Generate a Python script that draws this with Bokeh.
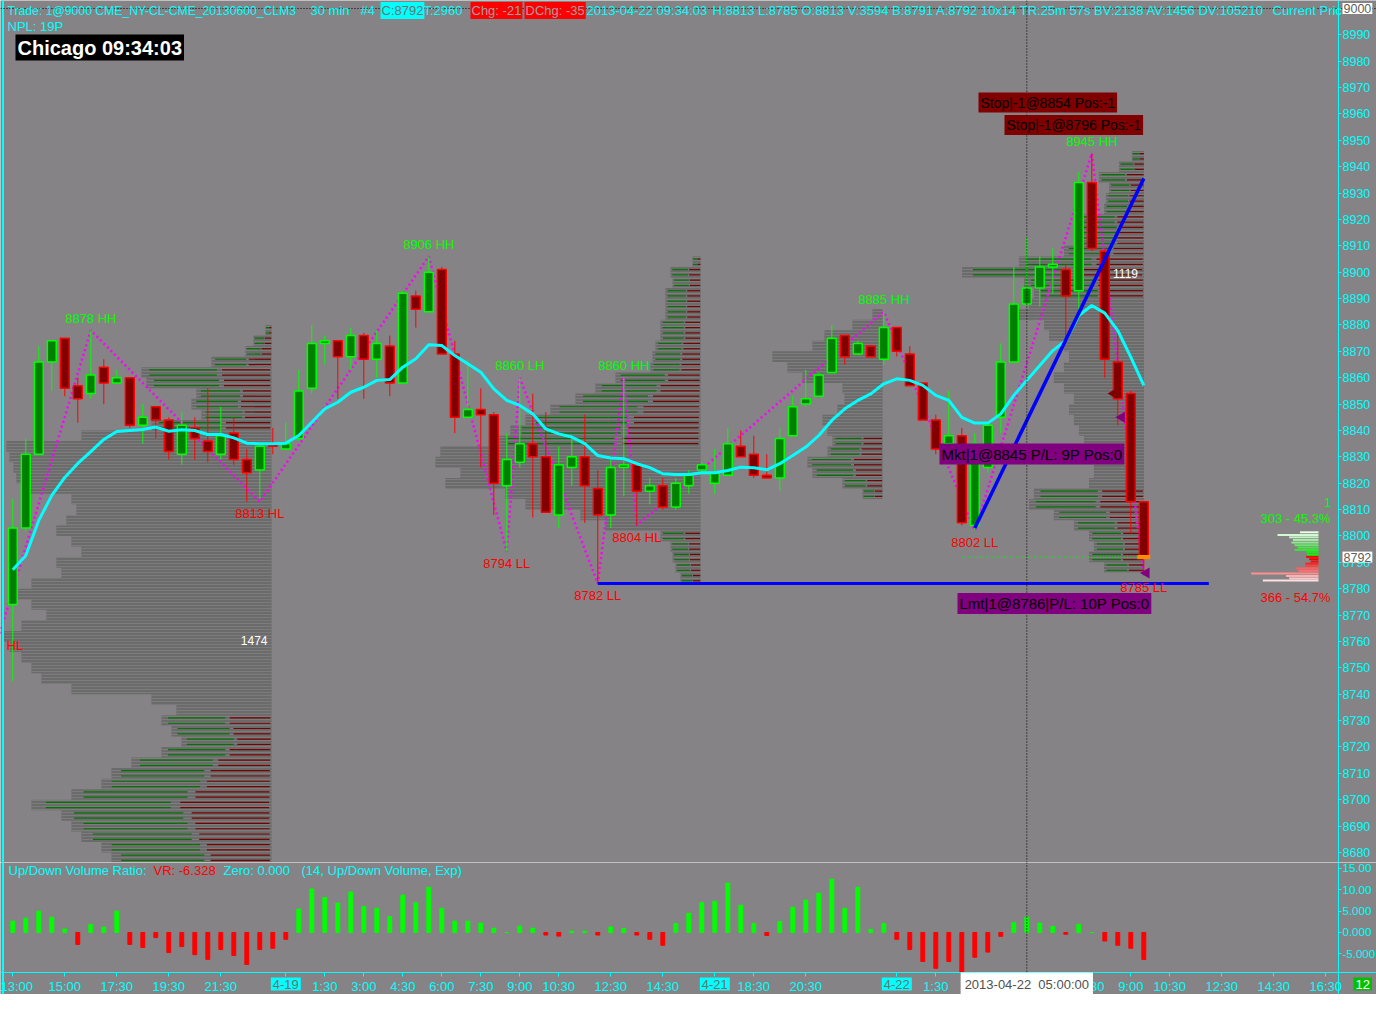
from bokeh.plotting import figure
from bokeh.models import Range1d, FixedTicker, Label, ColumnDataSource, Span
from bokeh.layouts import column
from bokeh.embed import file_html
from bokeh.resources import INLINE
from bokeh.core.properties import value

# ---------------- data ----------------
opens = [8774, 8803, 8831, 8866, 8875, 8857, 8854, 8864, 8858, 8860,
         8842, 8849, 8844, 8831, 8841, 8836, 8831, 8839, 8829, 8825,
         8835, 8833, 8837, 8856, 8873, 8874, 8868, 8876, 8867, 8872,
         8858, 8891, 8885, 8901, 8869, 8845, 8848, 8846, 8819, 8828,
         8835, 8830, 8808, 8826, 8830, 8818, 8808, 8826, 8827, 8817,
         8819, 8811, 8819, 8825, 8820, 8823, 8834, 8831, 8823, 8822,
         8838, 8850, 8853, 8862, 8876, 8869, 8872, 8867, 8879, 8869,
         8858, 8844, 8835, 8838, 8804, 8826, 8845, 8866, 8888, 8894,
         8902, 8901, 8893, 8934, 8908, 8866, 8854, 8813]
highs = [8814, 8837, 8872, 8874, 8875, 8860, 8878, 8867, 8863, 8860,
         8850, 8849, 8845, 8847, 8845, 8856, 8849, 8845, 8833, 8834,
         8841, 8843, 8863, 8880, 8876, 8874, 8879, 8877, 8878, 8876,
         8893, 8893, 8906, 8902, 8874, 8867, 8856, 8847, 8839, 8860,
         8854, 8847, 8834, 8837, 8846, 8825, 8829, 8860, 8827, 8822,
         8822, 8822, 8825, 8828, 8833, 8841, 8840, 8838, 8831, 8841,
         8853, 8863, 8862, 8880, 8876, 8874, 8872, 8885, 8879, 8872,
         8858, 8846, 8855, 8841, 8839, 8843, 8873, 8902, 8913, 8906,
         8909, 8903, 8938, 8945, 8909, 8877, 8855, 8813]
lows = [8745, 8802, 8831, 8855, 8853, 8843, 8852, 8850, 8858, 8841,
        8835, 8837, 8829, 8827, 8829, 8828, 8829, 8827, 8813, 8814,
        8831, 8833, 8836, 8854, 8865, 8852, 8863, 8852, 8860, 8853,
        8858, 8879, 8885, 8869, 8839, 8845, 8826, 8808, 8794, 8826,
        8807, 8809, 8803, 8819, 8805, 8782, 8803, 8815, 8804, 8812,
        8810, 8810, 8816, 8824, 8816, 8823, 8830, 8822, 8822, 8817,
        8838, 8849, 8853, 8862, 8865, 8869, 8868, 8865, 8868, 8857,
        8844, 8831, 8835, 8804, 8802, 8824, 8839, 8866, 8888, 8887,
        8892, 8875, 8886, 8908, 8860, 8842, 8801, 8785]
closes = [8803, 8831, 8866, 8874, 8856, 8852, 8861, 8858, 8860, 8842,
          8845, 8844, 8832, 8842, 8837, 8832, 8838, 8829, 8824, 8834,
          8834, 8835, 8855, 8873, 8874, 8868, 8876, 8867, 8873, 8858,
          8892, 8886, 8900, 8869, 8845, 8848, 8846, 8820, 8829, 8835,
          8830, 8809, 8827, 8830, 8819, 8808, 8826, 8827, 8817, 8819,
          8811, 8820, 8823, 8827, 8824, 8835, 8830, 8823, 8822, 8837,
          8849, 8852, 8861, 8875, 8868, 8873, 8868, 8879, 8870, 8857,
          8844, 8833, 8838, 8805, 8835, 8842, 8866, 8888, 8894, 8902,
          8903, 8891, 8934, 8909, 8867, 8852, 8813, 8792]
ema14 = [8787.2, 8792.6, 8805.9, 8815.4, 8822.2, 8827.5, 8832.0, 8836.6, 8839.6, 8840.0,
         8840.4, 8841.3, 8839.7, 8840.3, 8840.0, 8838.5, 8838.5, 8837.2, 8835.2, 8835.0,
         8835.0, 8835.2, 8838.1, 8843.1, 8848.2, 8850.7, 8854.5, 8856.4, 8859.0, 8859.3,
         8864.0, 8867.2, 8872.5, 8872.2, 8868.4, 8865.3, 8862.1, 8855.8, 8851.4, 8849.5,
         8846.3, 8840.6, 8838.7, 8837.5, 8835.0, 8830.5, 8829.6, 8829.3, 8827.4, 8825.9,
         8823.6, 8823.3, 8823.3, 8824.0, 8824.0, 8824.8, 8826.1, 8825.9, 8825.1, 8827.4,
         8830.5, 8833.7, 8838.1, 8843.8, 8848.2, 8851.4, 8853.9, 8857.7, 8859.6, 8859.0,
         8857.1, 8853.3, 8851.4, 8845.0, 8842.8, 8842.8, 8846.3, 8853.3, 8859.0, 8864.6,
         8870.3, 8874.1, 8883.6, 8887.4, 8884.5, 8877.9, 8867.8, 8857.1]
vol_ratio = [2.66, 3.36, 5.0, 3.6, 0.8, -2.8, 1.9, 1.25, 5.0, -2.8,
             -3.5, -1.2, -4.7, -3.3, -5.2, -6.3, -4.0, -5.4, -7.5, -4.0,
             -3.7, -1.6, 5.5, 10.2, 8.2, 6.9, 9.5, 6.1, 5.7, 3.75,
             8.75, 7.0, 10.6, 5.7, 2.66, 2.66, 2.2, 1.0, 0.0, 1.5,
             1.0, -0.6, -0.85, 0.3, 0.3, -0.6, 1.3, 0.9, -0.6, -1.6,
             -3.0, 2.1, 4.5, 7.0, 7.3, 11.6, 6.4, 2.1, -0.7, 2.6,
             5.9, 7.6, 9.2, 12.5, 5.7, 10.6, 0.7, 2.1, -1.6, -4.0,
             -6.8, -8.4, -6.8, -9.3, -5.8, -4.6, -0.9, 2.3, 3.6, 2.2,
             1.4, -0.4, 1.9, 0.0, -2.0, -3.0, -3.7, -6.328]

# swing pivots (zig-zag)
zig_bars = [0, 7, 20, 33, 39, 40, 46, 48, 49, 68, 75, 84, 88]
zig_prices = [8763, 8878, 8813, 8906, 8794, 8860, 8782, 8860, 8804, 8885, 8802, 8945, 8785]
swing_bars = [7, 20, 33, 39, 40, 46, 48, 49, 68, 75, 84, 88]
swing_prices = [8878, 8813, 8906, 8794, 8860, 8782, 8860, 8804, 8885, 8802, 8945, 8785]
swing_kinds = ["HH", "HL", "HH", "LL", "LH", "LL", "HH", "HL", "HH", "LL", "HH", "LL"]

# session volume profiles (price bins of 4 ticks, top to bottom)
s1_levels = [8878, 8874, 8870, 8866, 8862, 8858, 8854, 8850, 8846, 8842,
             8838, 8834, 8830, 8826, 8822, 8818, 8814, 8810, 8806, 8802,
             8798, 8794, 8790, 8786, 8782, 8778, 8774, 8770, 8766, 8762,
             8758, 8754, 8750, 8746, 8742, 8738, 8734, 8730, 8726, 8722,
             8718, 8714, 8710, 8706, 8702, 8698, 8694, 8690, 8686, 8682, 8678]
s1_vol = [33, 99, 143, 330, 715, 688, 413, 440, 385, 660,
          1045, 1458, 1441, 1419, 1403, 1375, 1100, 1073, 1128, 1183,
          1100, 1045, 1183, 1155, 1320, 1403, 1320, 1238, 1375, 1474,
          1441, 1375, 1320, 1265, 1100, 660, 523, 605, 550, 495,
          605, 770, 880, 935, 1100, 1320, 1155, 1100, 1045, 935, 880]
s2_levels = [8904, 8900, 8896, 8892, 8888, 8884, 8880, 8876, 8872, 8868,
             8864, 8860, 8856, 8852, 8848, 8844, 8840, 8836, 8832, 8828,
             8824, 8820, 8816, 8812, 8808, 8804, 8800, 8796, 8792, 8788, 8784]
s2_vol = [48, 180, 168, 210, 210, 210, 240, 240, 270, 288,
          300, 510, 630, 750, 900, 1050, 1140, 1230, 1560, 1590,
          1440, 1530, 1170, 1050, 720, 570, 240, 180, 168, 150, 120]
s3_levels = [8884, 8880, 8876, 8872, 8868, 8864, 8860, 8856, 8852, 8848,
             8844, 8840, 8836, 8832, 8828, 8824, 8820, 8816]
s3_vol = [60, 180, 348, 420, 660, 570, 480, 240, 228, 270,
          360, 330, 300, 330, 450, 420, 240, 120]
s4_levels = [8944, 8940, 8936, 8932, 8928, 8924, 8920, 8916, 8912, 8908,
             8904, 8900, 8896, 8892, 8888, 8884, 8880, 8876, 8872, 8868,
             8864, 8860, 8856, 8852, 8848, 8844, 8840, 8836, 8832, 8828,
             8824, 8820, 8816, 8812, 8808, 8804, 8800, 8796, 8792, 8788]
s4_vol = [74, 154, 277, 215, 234, 246, 431, 400, 431, 492,
          769, 1119, 738, 677, 707, 800, 615, 584, 492, 461,
          492, 554, 492, 431, 461, 431, 400, 369, 369, 308,
          308, 338, 677, 707, 554, 431, 338, 308, 338, 246]

# current bar bid/ask histogram
cur_levels = [8801.4, 8800.4, 8799.5, 8798.5, 8797.5, 8796.5, 8795.6, 8794.7, 8793.9, 8792.9,
              8792.1, 8791.2, 8790.3, 8789.5, 8788.6, 8787.7, 8786.8, 8785.8, 8784.8, 8783.9, 8783.1]
cur_ask_vol = [24, 53, 38, 33, 35, 31, 27, 31, 16, 15]
cur_bid_vol = [16, 12, 10, 17, 17, 29, 26, 87, 42, 38, 72]

# drawn objects
trend_bars = [75, 88]
trend_prices = [8803, 8935.5]
level_bars = [46, 93]
level_price = 8782
order_bars = [85.7, 86.3, 88.2]
order_prices = [8854, 8845, 8786]
cur_line_start = 74
crosshair_bar = 79
crosshair_price = 9000

price_ticks = [8680, 8690, 8700, 8710, 8720, 8730, 8740, 8750, 8760, 8770, 8780, 8790,
               8800, 8810, 8820, 8830, 8840, 8850, 8860, 8870, 8880, 8890, 8900, 8910,
               8920, 8930, 8940, 8950, 8960, 8970, 8980, 8990]
vr_ticks = [15, 10, 5, 0, -5]
vr_tick_labels = ["15.00", "10.00", "5.000", "0.000", "-5.000"]
time_ticks = [1, 5, 9, 13, 17, 22, 25, 28, 31, 34, 37, 40, 43, 47, 51, 55, 58, 62,
              69, 72, 75, 78, 81, 84, 87, 90, 94, 98, 102]
time_labels = ["13:00", "15:00", "17:30", "19:30", "21:30", "4-19", "1:30", "3:00", "4:30",
               "6:00", "7:30", "9:00", "10:30", "12:30", "14:30", "4-21", "18:30", "20:30",
               "4-22", "1:30", "3:00", "4:30", "6:00", "7:30", "9:00", "10:30", "12:30",
               "14:30", "16:30"]
day_marks = ["4-19", "4-21", "4-22"]

# ---------------- styles / geometry ----------------
BG = "#858385"
CYAN = "#00ffff"
GREEN = "#00ff00"
RED = "#ff0000"
FONT = "Liberation Sans"
BAR_PX = 13.0
PROF = "#6b6b6b"
PROF_LINE = "#7d7c7d"
W = 1376
H_MAIN = 862
H_LOW = 132


def bx(px):
    """screen x (px) -> bar coordinate"""
    return 1 + (px - 12.3) / BAR_PX


AXIS_X = bx(1338)
bars = list(range(1, len(opens) + 1))

p = figure(width=W, height=H_MAIN, x_range=Range1d(bx(0), bx(W)),
           y_range=Range1d(8676.2, 9003.03), y_axis_location="right", x_axis_location=None,
           output_backend="svg", toolbar_location=None, title=None,
           background_fill_color=BG, border_fill_color=BG, min_border=0,
           outline_line_color=None)
p.grid.visible = False


def style_axis(ax, size="12px"):
    ax.axis_line_color = CYAN
    ax.major_tick_line_color = CYAN
    ax.minor_tick_line_color = None
    ax.major_tick_out = 3
    ax.major_tick_in = 0
    ax.major_label_text_color = CYAN
    ax.major_label_text_font = FONT
    ax.major_label_text_font_size = size
    ax.major_label_standoff = 1


yax = p.yaxis[0]
yax.ticker = FixedTicker(ticks=price_ticks)
yax.fixed_location = AXIS_X
style_axis(yax, "12.5px")


def ms(rx, ry):
    return rx, H_MAIN - ry


def ls(rx, ry):
    return rx, H_LOW - (ry - H_MAIN)


def lab(fig, x, y, text, color, size="13px", bg=None, align="left", baseline="middle",
        bold=False, pad=0, xu="screen", yu="screen"):
    l = Label(x=x, y=y, x_units=xu, y_units=yu, text=text, text_color=color,
              text_font=FONT, text_font_size=size, text_align=align,
              text_baseline=baseline, text_font_style="bold" if bold else "normal")
    if bg is not None:
        l.background_fill_color = bg
        l.padding = pad
    fig.add_layout(l)
    return l


# ---- volume profiles ----
def draw_profile(levels, vols, right, px_per_vol, zone):
    lens = [v * px_per_vol / BAR_PX for v in vols]
    left = [right - L for L in lens]
    src = ColumnDataSource(dict(y=levels, left=left, right=[right] * len(levels)))
    p.hbar(y="y", left="left", right="right", height=4, source=src,
           fill_color=PROF, line_color=None, hatch_pattern="horizontal_line",
           hatch_color=PROF_LINE, hatch_scale=3, hatch_weight=1)
    gx0, gx1, rx0, rx1, yy = [], [], [], [], []
    for lv, L in zip(levels, lens):
        if zone(lv):
            for d in (-1.0, 1.0):
                yy.append(lv + d)
                gx0.append(right - 0.94 * L)
                gx1.append(right - 0.42 * L)
                rx0.append(right - 0.38 * L)
                rx1.append(right - 0.01 * L)
    p.segment(x0=gx0, y0=yy, x1=gx1, y1=yy, line_color="#007400", line_width=1.2)
    p.segment(x0=rx0, y0=yy, x1=rx1, y1=yy, line_color="#760000", line_width=1.2)


s1_right = bx(271)
s2_right = bx(700)
s3_right = bx(882)
s4_right = bx(1143.5)
draw_profile(s1_levels, s1_vol, s1_right, 268 / 1474, lambda v: v >= 8840 or v <= 8730)
draw_profile(s2_levels, s2_vol, s2_right, 1 / 6, lambda v: v >= 8836 or v <= 8800)
draw_profile(s3_levels, s3_vol, s3_right, 1 / 6, lambda v: v <= 8836)
draw_profile(s4_levels, s4_vol, s4_right, 182 / 1119, lambda v: v >= 8890 or v <= 8818)

p.text(x=[s1_right], y=[s1_levels[s1_vol.index(max(s1_vol))]], text=[str(max(s1_vol))],
       text_color="white", text_font=value(FONT), text_font_size="12px",
       text_align="right", text_baseline="middle", x_offset=-4, y_offset=4)
p.text(x=[s4_right], y=[s4_levels[s4_vol.index(max(s4_vol))]], text=[str(max(s4_vol))],
       text_color="white", text_font=value(FONT), text_font_size="12px",
       text_align="right", text_baseline="middle", x_offset=-6, y_offset=1)

# ---- current bar histogram ----
cur_right = bx(1318)
cur_vol = cur_ask_vol + cur_bid_vol
na, nb = len(cur_ask_vol), len(cur_bid_vol)
ask_cols = ["#e8ffe8", "#d4f7d4", "#c0f2c0", "#a8eca8", "#90e890", "#70e070",
            "#50e050", "#30e830", "#10f010", "#00ff00"]
bid_cols = ["#ff0000", "#f00000", "#e81010", "#ff2020", "#ff4040", "#ff6060",
            "#ff7070", "#ff9090", "#ffb0b0", "#ffc8c8", "#ffe0e0"]
p.hbar(y=cur_levels, left=[cur_right - v * 0.773 / BAR_PX for v in cur_vol],
       right=[cur_right] * len(cur_vol), height=0.75,
       fill_color=ask_cols[:na] + bid_cols[:nb], line_color=None)
ask_sum, bid_sum = sum(cur_ask_vol), sum(cur_bid_vol)
tot = ask_sum + bid_sum
lab(p, *ms(1295, 518), f"{ask_sum} - {100 * ask_sum / tot:.1f}%", GREEN, "13px", align="center")
lab(p, *ms(1295, 597), f"{bid_sum} - {100 * bid_sum / tot:.1f}%", RED, "13px", align="center")
lab(p, *ms(1327, 502), "1", GREEN, "12px", align="center")

# ---- zigzag ----
p.line(zig_bars, zig_prices, line_color="#ff00ff", line_width=2.6, line_dash="2 3")

# ---- candles ----
up = [c >= o for o, c in zip(opens, closes)]
cs = ColumnDataSource(dict(
    x=bars, high=highs, low=lows,
    top=[max(o, c) for o, c in zip(opens, closes)],
    bot=[min(o, c) for o, c in zip(opens, closes)],
    fill=["#008000" if u else "#800000" for u in up],
    edge=[GREEN if u else RED for u in up]))
p.segment(x0="x", y0="low", x1="x", y1="high", line_color="edge", line_width=1, source=cs)
p.vbar(x="x", top="top", bottom="bot", width=0.68, fill_color="fill",
       line_color="edge", line_width=1.5, source=cs)

# ---- EMA ----
p.line(bars, ema14, line_color=CYAN, line_width=3)

# ---- drawn lines ----
p.line(level_bars, [level_price, level_price], line_color="#0000ff", line_width=3)
p.line(trend_bars, trend_prices, line_color="#0000ff", line_width=3.5)
p.line([cur_line_start, bars[-1]], [closes[-1], closes[-1]], line_color=GREEN,
       line_width=1, line_dash="1 2")
p.rect(x=[bars[-1]], y=[closes[-1]], width=1.0, height=1.6, fill_color="#ff8c00",
       line_color=None)
p.scatter(x=order_bars, y=order_prices, marker="triangle", size=11, angle=1.5708,
          fill_color=["#800000", "#800080", "#800080"], line_color=None)

# ---- swing labels ----
sw = ColumnDataSource(dict(
    x=swing_bars, y=swing_prices,
    t=[f"{v} {k}" for v, k in zip(swing_prices, swing_kinds)],
    c=[GREEN if k[1] == "H" else RED for k in swing_kinds],
    off=[-12 if k[1] == "H" else 12 for k in swing_kinds]))
p.text(x="x", y="y", text="t", text_color="c", y_offset="off", text_align="center",
       text_baseline="middle", text_font=value(FONT), text_font_size="13px", source=sw)
lab(p, *ms(6, 645), "HL", RED, "13px")

# ---- frame lines / crosshair ----
p.add_layout(Span(location=bx(2.5), dimension="height", line_color=CYAN, line_width=2))
p.add_layout(Span(location=crosshair_bar, dimension="height", line_color="black",
                  line_dash="1 2", line_width=1))
p.add_layout(Span(location=crosshair_price, dimension="width", line_color="black",
                  line_dash="1 2", line_width=1))

# ---- order labels ----
lab(p, *ms(978, 102), "Stop|-1@8854 Pos:-1", "black", "14px", bg="#800000", pad=2)
lab(p, *ms(1004, 124.5), "Stop|-1@8796 Pos:-1", "black", "14px", bg="#800000", pad=2)
lab(p, *ms(939, 453.5), "Mkt|1@8845 P/L: 9P Pos:0", "black", "15px", bg="#800080", pad=2)
lab(p, *ms(957, 603), "Lmt|1@8786|P/L: 10P Pos:0", "black", "15px", bg="#800080", pad=2)

# ---- header ----
hy = 10
lab(p, *ms(7, hy), "Trade: 1@9000 CME_NY-CL-CME_20130600_CLM3", CYAN, "12.2px")
lab(p, *ms(310, hy), "30 min", CYAN, "13px")
lab(p, *ms(360, hy), "#4", CYAN, "13px")
lab(p, *ms(380, hy), "C:8792", "#707070", "13px", bg=CYAN, pad=1)
lab(p, *ms(423, hy), "T:2960", CYAN, "13px")
lab(p, *ms(470, hy), "Chg: -21", "#a0a0a0", "13px", bg="#ff0000", pad=1)
lab(p, *ms(524, hy), "DChg: -35", "#a0a0a0", "13px", bg="#ff0000", pad=1)
lab(p, *ms(586, hy), "2013-04-22 09:34:03", CYAN, "13px")
lab(p, *ms(712, hy), "H:8813 L:8785 O:8813 V:3594 B:8791 A:8792 10x14 TR:25m 57s "
    "BV:2138 AV:1456 DV:105210", CYAN, "13px")
lab(p, *ms(1272, hy), "Current Pric", CYAN, "13px")
lab(p, *ms(7, 26), "NPL: 19P", CYAN, "13px")
lab(p, *ms(15, 47), "Chicago 09:34:03", "white", "20px", bg="black", pad=2, bold=True)

# price boxes on the axis
lab(p, *ms(1342, 8), "9000", "#606060", "12.5px", bg="white", pad=1)
lab(p, 1342, closes[-1], str(closes[-1]), "#606060", "12.5px", bg="white", pad=1, yu="data")

# ---------------- lower panel ----------------
q = figure(width=W, height=H_LOW, x_range=p.x_range,
           y_range=Range1d(-14.53, 16.40), y_axis_location="right",
           output_backend="svg", toolbar_location=None, title=None,
           background_fill_color=BG, border_fill_color=BG, min_border=0,
           outline_line_color=None)
q.grid.visible = False
qy = q.yaxis[0]
qy.ticker = FixedTicker(ticks=vr_ticks)
qy.major_label_overrides = {t: s for t, s in zip(vr_ticks, vr_tick_labels)}
qy.fixed_location = AXIS_X
style_axis(qy, "11.5px")
qx = q.xaxis[0]
qx.ticker = FixedTicker(ticks=time_ticks)
qx.major_label_overrides = {t: ("" if s in day_marks else s) for t, s in zip(time_ticks, time_labels)}
qx.fixed_location = -9.374
style_axis(qx, "13px")
qx.major_tick_out = 4
qx.major_label_standoff = 3

q.vbar(x=bars, top=vol_ratio, bottom=0, width=0.3,
       color=[GREEN if v >= 0 else RED for v in vol_ratio])
q.add_layout(Span(location=bx(2.5), dimension="height", line_color=CYAN, line_width=2))
q.add_layout(Span(location=crosshair_bar, dimension="height", line_color="black",
                  line_dash="1 2", line_width=1))

lab(q, *ls(8, 870), "Up/Down Volume Ratio:", CYAN, "13px")
lab(q, *ls(153, 870), f"VR: {vol_ratio[-1]:.3f}", RED, "13px")
lab(q, *ls(223, 870), "Zero: 0.000", CYAN, "13px")
lab(q, *ls(301, 870), "(14, Up/Down Volume, Exp)", CYAN, "13px")

for t, s in zip(time_ticks, time_labels):
    if s in day_marks:
        lab(q, t, H_LOW - (983.5 - H_MAIN), s, "#707070", "13px", bg=CYAN, pad=2,
            align="center", xu="data")
lab(q, crosshair_bar, H_LOW - (983.5 - H_MAIN), "2013-04-22 \u00a005:00:00", "#505050", "13px",
    bg="white", pad=4, align="center", xu="data")
lab(q, *ls(1353, 983.5), "12", "white", "13px", bg="#00c000", pad=2)

layout = column(p, q, spacing=0)
open("out.html", "w").write(file_html(layout, INLINE))
